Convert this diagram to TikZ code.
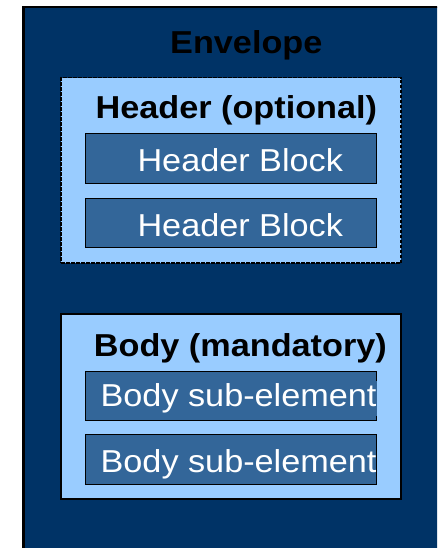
\documentclass[tikz,border=0pt]{standalone}
\usepackage{fontspec}
\setmainfont{Liberation Sans}[FakeStretch=1.08]
\definecolor{navy}{RGB}{0,51,102}
\definecolor{paleblue}{RGB}{153,204,255}
\definecolor{blockblue}{RGB}{51,102,153}
\tikzset{
  part/.style={fill=paleblue, draw=black, inner sep=0pt},
  block/.style={fill=blockblue, draw=black, line width=0.8pt, inner sep=0pt,
    minimum width=291.3pt},
  title/.style={anchor=base west, inner sep=0pt,
    font=\fontsize{31.7}{31.7}\selectfont\bfseries},
  label/.style={anchor=base west, inner sep=0pt, text=white,
    font=\fontsize{31.7}{31.7}\selectfont}
}
\begin{document}
\begin{tikzpicture}[x=1pt, y=-1pt]
  \useasboundingbox (0,0) rectangle (437,548);
  \clip (0,0) rectangle (437,548);

  % Envelope
  \node[fill=navy, draw=black, line width=2.5pt, inner sep=0pt,
    minimum width=440pt, minimum height=570pt, anchor=north west]
    (env) at (22,5.7) {};
  \node[title] (envtitle) at (170,54) {Envelope};

  % Header (optional)
  \node[part, dash pattern=on 3.5pt off 1.5pt, line width=1.6pt,
    minimum width=340pt, minimum height=185.5pt]
    (header) at (231,170.3) {};
  \node[title] (headertitle) at (95.4,118.7) {Header (optional)};
  \node[block, minimum height=49.4pt] (hb1) at (231,158.5) {};
  \node[block, minimum height=49pt] (hb2) at (231,222.8) {};
  \node[label] (hb1text) at (137.3,171.8) {Header Block};
  \node[label] (hb2text) at (137.3,236.8) {Header Block};

  % Body (mandatory)
  \node[part, line width=2pt, minimum width=340pt, minimum height=184.7pt]
    (body) at (231,406.3) {};
  \node[title] (bodytitle) at (93.7,356.7) {Body (mandatory)};
  \node[block, minimum height=49.3pt] (bs1) at (231,396.2) {};
  \node[block, minimum height=49.6pt] (bs2) at (231,459.4) {};
  \node[label, fill=blockblue, inner ysep=3pt] (bs1text) at (100.4,406.7)
    {Body sub-element};
  \node[label] (bs2text) at (100.4,472.8) {Body sub-element};
\end{tikzpicture}
\end{document}
